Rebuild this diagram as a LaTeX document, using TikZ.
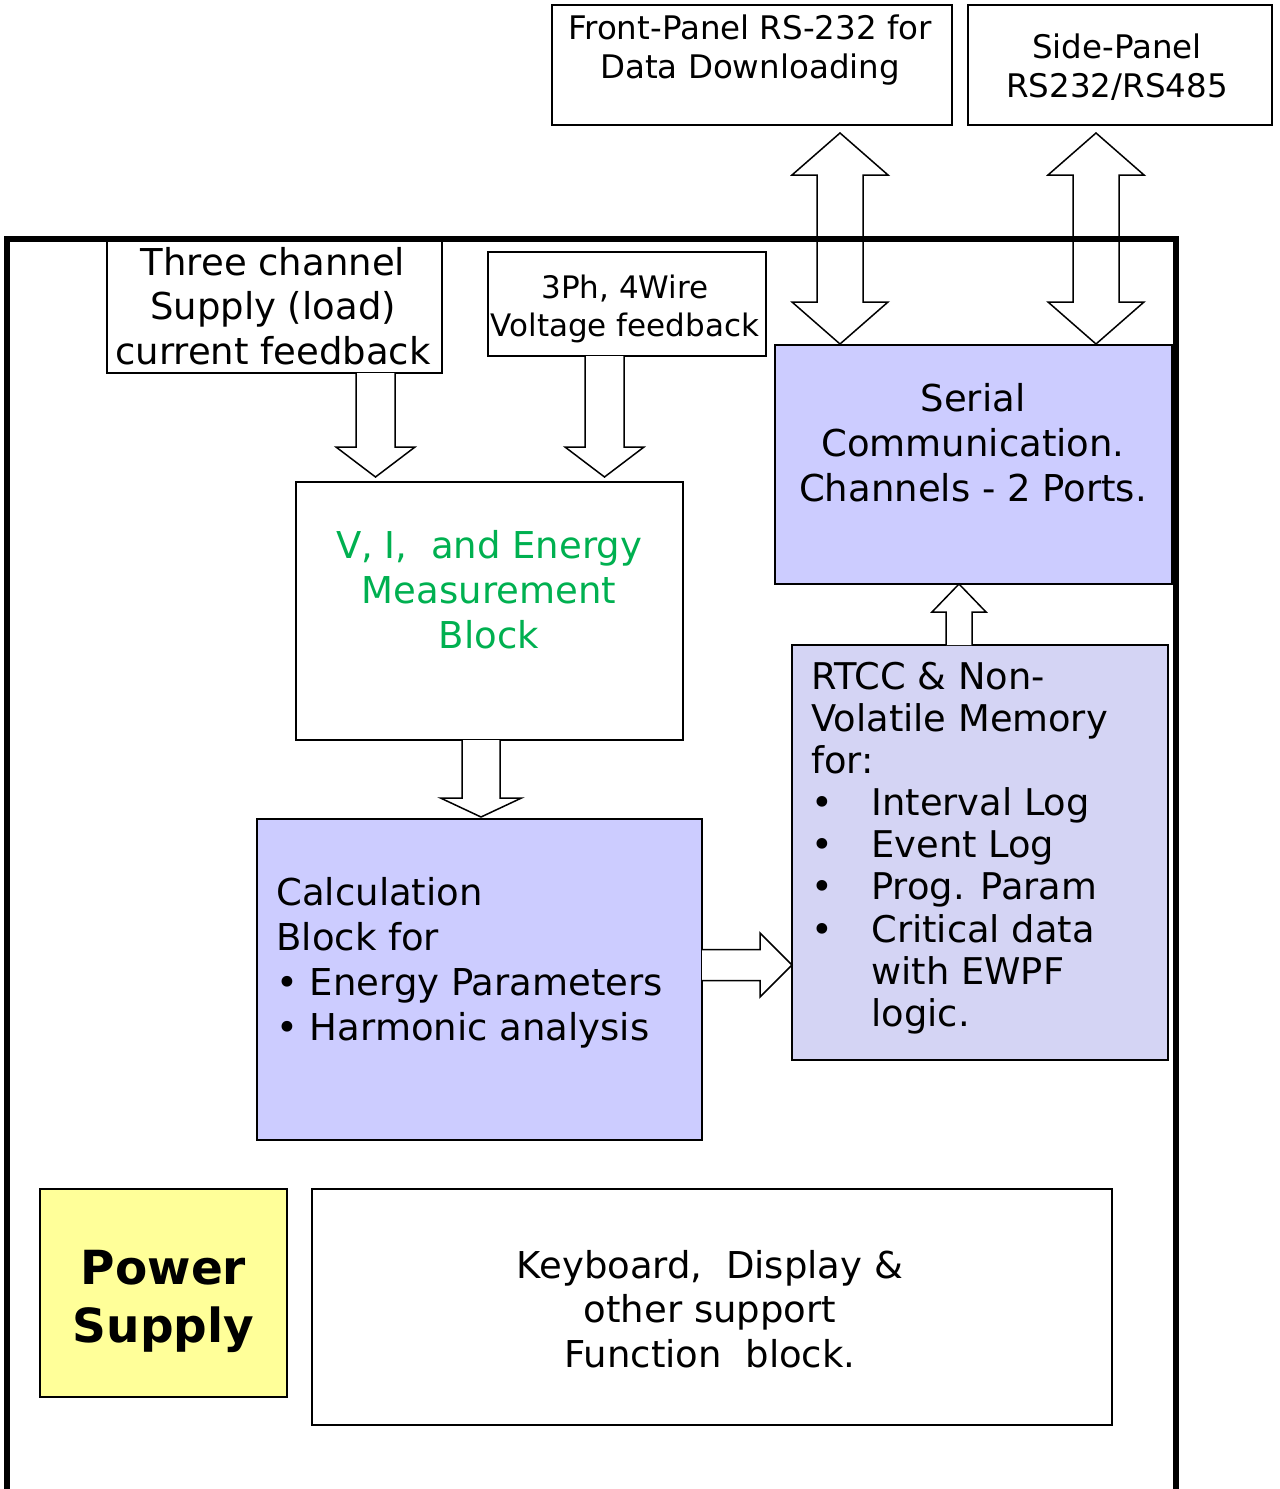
\documentclass[tikz,border=0pt]{standalone}
\usepackage{fontspec}
\setmainfont{DejaVu Sans}
\usetikzlibrary{calc,positioning}

\definecolor{lavender}{HTML}{CCCCFF}
\definecolor{greylav}{HTML}{D4D4F4}
\definecolor{paleyellow}{HTML}{FFFF99}
\definecolor{measgreen}{HTML}{00B050}

\newcommand{\fsz}[2]{\fontsize{#1}{#2}\selectfont}
\newcommand{\blt}{\makebox[30pt][l]{•}}
\newcommand{\ind}{\hspace*{30pt}}

% hollow block arrow, up or down: start, tip, shaft half, head half, head length
\newcommand{\vblock}[5]{%
  \draw[hollow] ($(#1)+(-#3,0)$) -- ($(#2)+(-#3,{-(#5)})$) -- ($(#2)+(-#4,{-(#5)})$)
    -- (#2) -- ($(#2)+(#4,{-(#5)})$) -- ($(#2)+(#3,{-(#5)})$) -- ($(#1)+(#3,0)$);}
% same, pointing right
\newcommand{\hblock}[5]{%
  \draw[hollow] ($(#1)+(0,-#3)$) -- ($(#2)+({-(#5)},-#3)$) -- ($(#2)+({-(#5)},-#4)$)
    -- (#2) -- ($(#2)+({-(#5)},#4)$) -- ($(#2)+({-(#5)},#3)$) -- ($(#1)+(0,#3)$);}
% two headed: top tip, bottom tip, shaft half, head half, head length
\newcommand{\dblock}[5]{%
  \draw[hollow] (#1) -- ($(#1)+(#4,#5)$) -- ($(#1)+(#3,#5)$) -- ($(#2)+(#3,-#5)$)
    -- ($(#2)+(#4,-#5)$) -- (#2) -- ($(#2)+(-#4,-#5)$) -- ($(#2)+(-#3,-#5)$)
    -- ($(#1)+(-#3,#5)$) -- ($(#1)+(-#4,#5)$) -- cycle;}

\tikzset{
  box/.style={draw, line width=0.8pt, inner sep=0pt, outer sep=0pt},
  hollow/.style={draw, fill=white, line width=0.75pt, line join=miter},
  lbl/.style={align=center, inner sep=0pt},
  frame/.style={line width=3pt},
}

\begin{document}
\begin{tikzpicture}[x=0.5pt,y=-0.5pt]
  \useasboundingbox (0,0) rectangle (1280,1489);

  % blocks
  \node[box, minimum width=200pt, minimum height=60pt] (frontport) at (752,65) {};
  \node[box, minimum width=152pt, minimum height=60pt] (sideport) at (1120,65) {};
  \node[box, fill=white, minimum width=167.5pt, minimum height=66.5pt] (curfb) at (274.5,306.5) {};
  \node[box, minimum width=139pt, minimum height=52pt] (voltfb) at (627,304) {};
  \node[box, minimum width=193.5pt, minimum height=129pt] (meas) at (489.5,611) {};
  \node[box, fill=lavender, minimum width=222.5pt, minimum height=160.5pt] (calcblk) at (479.5,979.5) {};
  \node[box, fill=lavender, minimum width=198.5pt, minimum height=119.5pt] (serial) at (973.5,464.5) {};
  \node[box, fill=greylav, minimum width=188pt, minimum height=207.5pt] (rtcc) at (980,852.5) {};
  \node[box, fill=paleyellow, minimum width=123.5pt, minimum height=104pt] (power) at (163.5,1293) {};
  \node[box, minimum width=400pt, minimum height=118pt] (keypad) at (712,1307) {};

  % texts
  \node[lbl, font=\fsz{16.25}{19.5}] (frontport-t) at (750,50.5) {Front-Panel RS-232 for\\Data Downloading};
  \node[lbl, font=\fsz{16.25}{19.5}] (sideport-t) at (1117,67) {Side-Panel\\RS232/RS485};
  \node[lbl, font=\fsz{18.5}{22.25}] (curfb-t) at (273,306) {Three channel\\Supply (load)\\current feedback};
  \node[lbl, font=\fsz{15.5}{19}] (voltfb-t) at (625,309) {3Ph, 4Wire\\Voltage feedback};
  \node[lbl, font=\fsz{18.5}{22.5}, text=measgreen] (meas-t) at (489,590) {V, I,\ \ and Energy\\Measurement\\Block};
  \node[lbl, font=\fsz{18.5}{22.5}] (serial-t) at (973,443) {Serial\\Communication.\\Channels - 2 Ports.};
  \node[lbl, align=left, anchor=west, font=\fsz{18.5}{22.5}] (calcblk-t) at (276,963)
    {Calculation\\Block for\\• Energy Parameters\\• Harmonic analysis};
  \node[lbl, align=left, anchor=west, font=\fsz{18.4}{21.05}] (rtcc-t) at (811,848)
    {RTCC \& Non-\\Volatile Memory\\for:\\\blt Interval Log\\\blt Event Log\\\blt Prog. Param\\\blt Critical data\\\ind with EWPF\\\ind logic.};
  \node[lbl, font=\bfseries\fsz{23.5}{29}] (power-t) at (163.5,1301) {Power\\Supply};
  \node[lbl, font=\fsz{18.5}{22.25}] (keypad-t) at (710,1309) {Keyboard,\ \ Display \&\\other support\\Function\ \ block.};

  % port arrows
  \coordinate (fp-top) at ($(840,0 |- frontport.south)+(0,8)$);
  \coordinate (fp-bot) at ($(840,0 |- serial.north)+(0,-1)$);
  \dblock{fp-top}{fp-bot}{23}{48}{42}
  \coordinate (sp-top) at ($(1096,0 |- sideport.south)+(0,8)$);
  \coordinate (sp-bot) at ($(1096,0 |- serial.north)+(0,-1)$);
  \dblock{sp-top}{sp-bot}{23}{48}{42}

  % feedback arrows
  \coordinate (c1) at (375.5,0 |- curfb.south);
  \coordinate (c2) at ($(375.5,0 |- meas.north)+(0,-5)$);
  \vblock{c1}{c2}{19.5}{39.5}{30}
  \coordinate (v1) at (604.5,0 |- voltfb.south);
  \coordinate (v2) at ($(604.5,0 |- meas.north)+(0,-5)$);
  \vblock{v1}{v2}{19.5}{39.5}{30}
  \coordinate (m1) at (481,0 |- meas.south);
  \coordinate (m2) at ($(481,0 |- calcblk.north)+(0,-2)$);
  \vblock{m1}{m2}{19}{40.5}{19}
  \coordinate (r1) at (959,0 |- rtcc.north);
  \coordinate (r2) at (959,0 |- serial.south);
  \vblock{r1}{r2}{13}{27}{-28}
  \coordinate (k1) at (calcblk.east |- 0,965);
  \coordinate (k2) at (rtcc.west |- 0,965);
  \hblock{k1}{k2}{15.5}{32}{32}

  % outer frame
  \draw[frame] (7,1495) -- (7,239) -- (1176,239) -- (1176,1495);
\end{tikzpicture}
\end{document}
